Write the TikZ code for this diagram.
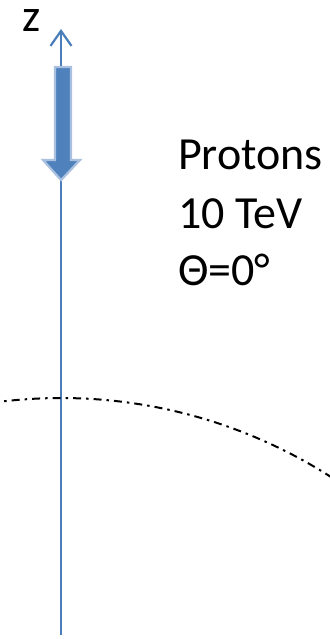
\documentclass[tikz,border=0pt]{standalone}
\usepackage{fontspec}
\setmainfont{Carlito}
\usetikzlibrary{arrows.meta}
\definecolor{axisblue}{HTML}{4A7EBB}
\definecolor{fillblue}{HTML}{4F81BD}
\definecolor{glowblue}{HTML}{A9C0DE}
\tikzset{
  axisline/.style={draw=axisblue, line width=2.4pt},
  beamarrow/.style={fill=fillblue, draw=glowblue, line width=2.2pt, line join=miter},
  lbl/.style={anchor=base west, inner sep=0pt, font=\fontsize{46}{57}\selectfont},
  dashdot/.style={draw=black, line width=2pt, dash pattern=on 8pt off 5pt on 2.5pt off 5pt}
}
\begin{document}
\begin{tikzpicture}[x=1pt,y=-1pt]
\useasboundingbox (0,0) rectangle (329,639);
\coordinate (top) at (61,29);
\coordinate (bottom) at (61,635);
\draw[axisline, -{Straight Barb[length=15pt,width=21pt,line width=2.2pt]}] (bottom) -- (top);
\path[beamarrow] (55,67) -- (71,67) -- (71,160) -- (80,160) -- (63,178) -- (61,180) -- (43,160) -- (55,160) -- cycle;
\node[lbl, text height=22pt] (z) at (22,32) {z};
\node[lbl] (p) at (178,170) {Protons};
\node[lbl] (e) at (178,228) {10 TeV};
\node[lbl] (t) at (178,285) {Θ=0°};
\draw[dashdot] plot[domain=-98:-57, samples=80] ({61+501*cos(\x)}, {899+501*sin(\x)});
\end{tikzpicture}
\end{document}
